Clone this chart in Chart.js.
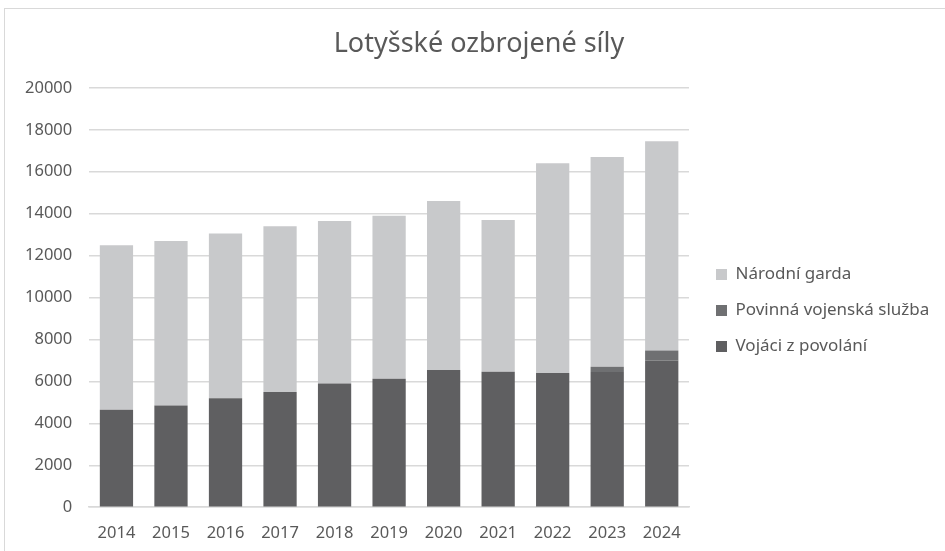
<!DOCTYPE html>
<html>
<head>
<meta charset="utf-8">
<script src="https://cdn.jsdelivr.net/npm/chart.js@4.4.1/dist/chart.umd.min.js"></script>
<style>
  html, body { margin: 0; padding: 0; background: #fff; }
  #wrap { position: relative; width: 945px; height: 551px; overflow: hidden; }
  #frame { position: absolute; left: 4px; top: 8px; width: 1000px; height: 600px; border: 1px solid #d9d9d9; }
  canvas { position: absolute; left: 0; top: 0; }
</style>
</head>
<body>
<div id="wrap">
  <div id="frame"></div>
  <canvas id="chart" width="945" height="551"></canvas>
</div>
<script>
// Latvian armed forces by component, 2014-2024
const years = ['2014', '2015', '2016', '2017', '2018', '2019', '2020', '2021', '2022', '2023', '2024'];
const professional = [4650, 4850, 5200, 5500, 5900, 6130, 6550, 6460, 6400, 6450, 7000];
const conscripts = [0, 0, 0, 0, 0, 0, 0, 0, 0, 250, 470];
const nationalGuard = [7850, 7850, 7850, 7900, 7750, 7770, 8050, 7240, 10000, 10000, 9980];
const yTicks = [0, 2000, 4000, 6000, 8000, 10000, 12000, 14000, 16000, 18000, 20000];

const textColor = '#595959';
const tickFont = { family: 'Noto Sans', size: 16.5 };

// nudge title and legend to where Excel puts them
const nudge = {
    id: 'nudge',
    afterLayout(chart) {
        const lg = chart.legend;
        lg.left += 8; lg.right += 40;
        lg.top += 30; lg.bottom += 30;
        const t = chart.titleBlock;
        t.left += 17; t.right += 17;
    }
};

new Chart(document.getElementById('chart').getContext('2d'), {
    type: 'bar',
    data: {
        labels: years,
        datasets: [
            { label: 'Vojáci z povolání', data: professional, backgroundColor: '#5f5f61' },
            { label: 'Povinná vojenská služba', data: conscripts, backgroundColor: '#6f7072' },
            { label: 'Národní garda', data: nationalGuard, backgroundColor: '#c8c9cb' },
        ]
    },
    plugins: [nudge],
    options: {
        responsive: false,
        animation: false,
        layout: { padding: { left: 8, right: 29, top: 10, bottom: 0 } },
        datasets: { bar: { categoryPercentage: 1.0, barPercentage: 0.61 } },
        plugins: {
            title: {
                display: true,
                text: 'Lotyšské ozbrojené síly',
                color: textColor,
                font: { family: 'Noto Sans', size: 27, weight: 'normal' },
                padding: { top: 18, bottom: 27.5 }
            },
            legend: {
                position: 'right',
                reverse: true,
                labels: {
                    color: textColor,
                    boxWidth: 11,
                    boxHeight: 11,
                    padding: 19,
                    font: { family: 'Noto Sans', size: 17 }
                }
            },
            tooltip: { enabled: false }
        },
        scales: {
            x: {
                stacked: true,
                grid: { display: false },
                border: { color: '#d9d9d9', width: 1.5 },
                ticks: { color: textColor, font: tickFont, padding: 8 }
            },
            y: {
                stacked: true,
                min: 0,
                max: 20000,
                afterBuildTicks: (axis) => { axis.ticks = yTicks.map(v => ({ value: v })); },
                grid: { color: '#d9d9d9', lineWidth: 1.5, drawTicks: false },
                border: { display: false },
                ticks: { color: textColor, font: tickFont, padding: 17, callback: (v) => String(v) }
            }
        }
    }
});
</script>
</body>
</html>
